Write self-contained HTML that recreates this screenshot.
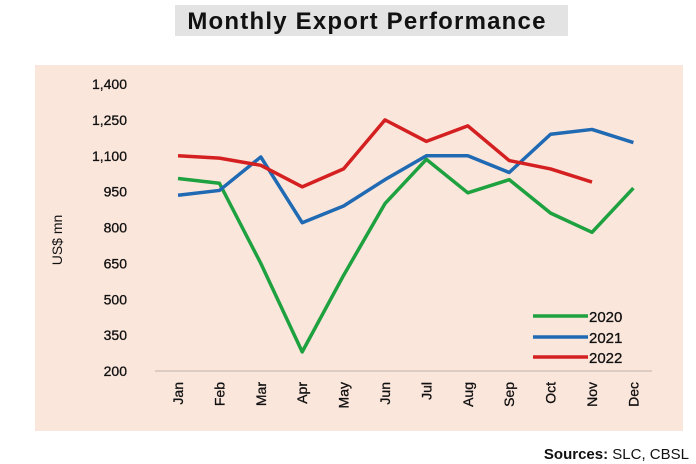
<!DOCTYPE html>
<html><head><meta charset="utf-8"><style>
html,body{margin:0;padding:0;background:#fff;width:696px;height:464px;overflow:hidden;font-family:"Liberation Sans",sans-serif}
</style></head><body>
<svg width="696" height="464" xmlns="http://www.w3.org/2000/svg">
<rect x="175" y="5" width="393" height="31" fill="#e3e3e3"/>
<text x="367" y="29" text-anchor="middle" font-size="24" font-weight="bold" letter-spacing="1.2" fill="#111">Monthly Export Performance</text>
<rect x="35" y="65" width="648" height="366" fill="#fbe6dc"/>
<line x1="155" y1="371" x2="652" y2="371" stroke="#c9bdb5" stroke-width="1.2"/>
<text transform="translate(62,240) rotate(-90)" text-anchor="middle" font-size="14" fill="#111">US$ mn</text>
<g id="yt"></g><g id="xt"></g><g id="series"></g>
<g>
<line x1="533" y1="316" x2="588" y2="316" stroke="#1ea13f" stroke-width="3.5"/>
<text x="589" y="322" font-size="15" fill="#111" stroke="#111" stroke-width="0.3">2020</text>
<line x1="533" y1="337" x2="588" y2="337" stroke="#1f6ab3" stroke-width="3.5"/>
<text x="589" y="343" font-size="15" fill="#111" stroke="#111" stroke-width="0.3">2021</text>
<line x1="533" y1="357" x2="588" y2="357" stroke="#d42020" stroke-width="3.5"/>
<text x="589" y="363" font-size="15" fill="#111" stroke="#111" stroke-width="0.3">2022</text>
</g>
<text x="689" y="459" text-anchor="end" font-size="15" fill="#111"><tspan font-weight="bold">Sources:</tspan> SLC, CBSL</text>
</svg>
<script>
const months=["Jan","Feb","Mar","Apr","May","Jun","Jul","Aug","Sep","Oct","Nov","Dec"];
const yTicks=[200,350,500,650,800,950,1100,1250,1400];
const yTickLabels=["200","350","500","650","800","950","1,100","1,250","1,400"];
const s2020=[1005,985,650,280,600,900,1085,945,1000,860,780,965];
const s2021=[935,955,1095,820,890,1000,1100,1100,1030,1190,1210,1155];
const s2022=[1100,1090,1060,970,1045,1250,1160,1225,1080,1045,990];
const NS="http://www.w3.org/2000/svg";
function y(v){return 371-(v-200)*(287/1200);}
function x(i){return 178+i*41.4;}
const yt=document.getElementById('yt');
yTicks.forEach((v,i)=>{const t=document.createElementNS(NS,'text');


t.setAttribute('x',127);t.setAttribute('y',y(v)+5);t.setAttribute('text-anchor','end');
t.setAttribute('font-size','14');t.setAttribute('fill','#111');t.setAttribute('stroke','#111');t.setAttribute('stroke-width','0.3');t.textContent=yTickLabels[i];yt.appendChild(t);});
const xt=document.getElementById('xt');
months.forEach((m,i)=>{const t=document.createElementNS(NS,'text');


t.setAttribute('transform','translate('+(x(i)+5)+',382) rotate(-90)');t.setAttribute('text-anchor','end');
t.setAttribute('font-size','14');t.setAttribute('fill','#111');t.setAttribute('stroke','#111');t.setAttribute('stroke-width','0.3');t.textContent=m;xt.appendChild(t);});
const sg=document.getElementById('series');
[[s2020,'#1ea13f','line-2020'],[s2021,'#1f6ab3','line-2021'],[s2022,'#d42020','line-2022']].forEach(([d,c,n])=>{
const p=document.createElementNS(NS,'polyline');


p.setAttribute('points',d.map((v,i)=>x(i)+','+y(v)).join(' '));
p.setAttribute('fill','none');p.setAttribute('stroke',c);p.setAttribute('stroke-width','3.5');p.setAttribute('stroke-linejoin','round');
sg.appendChild(p);});
</script>
</body></html>
